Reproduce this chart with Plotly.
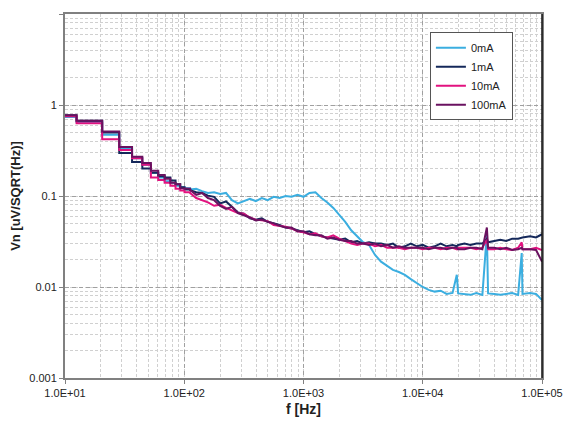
import plotly.graph_objects as go

# Low-frequency FFT bins (start frequency of each bin, Hz); each bin ends at the next start
low_f = [10, 12.5, 20.5, 28.5, 36.5, 44.5, 52.5, 60.5, 68.5, 76.5, 84.5, 92.5, 100.5]
low_0mA = [0.74, 0.65, 0.47, 0.328, 0.26, 0.22, 0.18, 0.16, 0.145, 0.14, 0.13, 0.125, 0.122]
low_1mA = [0.77, 0.67, 0.50, 0.297, 0.236, 0.20, 0.18, 0.165, 0.16, 0.148, 0.135, 0.125, 0.118]
low_10mA = [0.75, 0.63, 0.42, 0.32, 0.26, 0.22, 0.16, 0.15, 0.14, 0.13, 0.12, 0.115, 0.11]
low_100mA = [0.77, 0.67, 0.51, 0.345, 0.27, 0.23, 0.19, 0.17, 0.155, 0.14, 0.135, 0.122, 0.12]

# Higher-frequency points (Hz)
hi_f = [112, 126, 141, 158, 178, 200, 224, 251, 282, 316, 355, 398, 447, 501, 562, 631, 708, 794, 891,
        1000, 1122, 1259, 1413, 1585, 1778, 1995, 2239, 2512, 2818, 3162, 3548, 3981, 4467, 5012, 5623,
        6310, 7079, 7943, 8913, 10000, 11220, 12589, 14125, 15849, 17783, 19300, 19800, 22387, 25119,
        28184, 31623, 34500, 35300, 39811, 44668, 50119, 56234, 63096, 67600, 68600, 79433, 89125, 100000]

hi_0mA = [0.118, 0.12, 0.113, 0.108, 0.11, 0.105, 0.108, 0.090, 0.083, 0.087, 0.093, 0.088, 0.095, 0.090, 0.098, 0.095, 0.100, 0.098, 0.103,
          0.098, 0.108, 0.110, 0.095, 0.085, 0.074, 0.062, 0.052, 0.042, 0.036, 0.031, 0.029, 0.0225, 0.019, 0.017, 0.0154,
          0.0146, 0.0136, 0.0122, 0.011, 0.0100, 0.0093, 0.0089, 0.0091, 0.0084, 0.0086, 0.0136, 0.0085, 0.0084, 0.0082,
          0.0086, 0.0082, 0.039, 0.0085, 0.0084, 0.0082, 0.0084, 0.0086, 0.0082, 0.0236, 0.0084, 0.0086, 0.0084, 0.0072]

hi_1mA = [0.116, 0.11, 0.108, 0.101, 0.098, 0.083, 0.087, 0.076, 0.066, 0.064, 0.057, 0.055, 0.057, 0.052, 0.050, 0.048, 0.045, 0.044, 0.042,
          0.040, 0.041, 0.038, 0.036, 0.035, 0.034, 0.033, 0.034, 0.031, 0.032, 0.030, 0.031, 0.030, 0.030, 0.029, 0.030,
          0.027, 0.028, 0.030, 0.028, 0.029, 0.027, 0.028, 0.030, 0.028, 0.029, 0.028, 0.029, 0.030, 0.029,
          0.030, 0.030, 0.034, 0.031, 0.032, 0.033, 0.032, 0.034, 0.034, 0.035, 0.035, 0.036, 0.035, 0.038]

hi_10mA = [0.108, 0.095, 0.090, 0.085, 0.078, 0.080, 0.074, 0.070, 0.065, 0.064, 0.058, 0.055, 0.054, 0.053, 0.048, 0.047, 0.046, 0.044, 0.041,
           0.040, 0.038, 0.039, 0.036, 0.035, 0.037, 0.034, 0.032, 0.030, 0.029, 0.030, 0.030, 0.028, 0.029, 0.027, 0.027,
           0.027, 0.026, 0.027, 0.027, 0.026, 0.027, 0.027, 0.026, 0.027, 0.027, 0.026, 0.027, 0.027, 0.027,
           0.026, 0.027, 0.033, 0.026, 0.026, 0.027, 0.026, 0.0255, 0.027, 0.031, 0.026, 0.026, 0.027, 0.0255]

hi_100mA = [0.116, 0.103, 0.108, 0.095, 0.090, 0.078, 0.072, 0.076, 0.065, 0.062, 0.058, 0.054, 0.055, 0.052, 0.050, 0.047, 0.045, 0.045, 0.041,
            0.041, 0.038, 0.037, 0.037, 0.034, 0.035, 0.033, 0.032, 0.032, 0.030, 0.030, 0.029, 0.030, 0.028, 0.029, 0.027,
            0.028, 0.027, 0.027, 0.027, 0.027, 0.026, 0.027, 0.027, 0.026, 0.027, 0.027, 0.026, 0.026, 0.027,
            0.027, 0.026, 0.045, 0.027, 0.027, 0.026, 0.027, 0.0255, 0.026, 0.027, 0.026, 0.026, 0.0255, 0.019]

names = ["0mA", "1mA", "10mA", "100mA"]
colors = ["#3BAEE0", "#14285A", "#E2127F", "#6A1260"]
series = [(low_0mA, hi_0mA), (low_1mA, hi_1mA), (low_10mA, hi_10mA), (low_100mA, hi_100mA)]

x_ticks = [10, 100, 1000, 10000, 100000]
x_labels = ["1.0E+01", "1.0E+02", "1.0E+03", "1.0E+04", "1.0E+05"]
y_ticks = [0.001, 0.01, 0.1, 1, 10]
y_labels = ["0.001", "0.01", "0.1", "1", "10"]


def build(low_v, hi_v):
    xs, ys = [], []
    edges = low_f + [hi_f[0]]
    for i, v in enumerate(low_v):
        xs += [edges[i], edges[i + 1]]
        ys += [v, v]
    xs += hi_f
    ys += hi_v
    return xs, ys


fig = go.Figure()
for name, col, (lv, hv) in zip(names, colors, series):
    xs, ys = build(lv, hv)
    fig.add_trace(go.Scatter(x=xs, y=ys, mode="lines", name=name,
                             line=dict(color=col, width=2)))

grid_major = "#a0a0a0"
grid_minor = "#d0d0d0"
font_fam = "Liberation Sans, Arial, sans-serif"

fig.update_layout(
    width=565, height=415,
    margin=dict(l=57, r=31, t=6, b=45),
    paper_bgcolor="white", plot_bgcolor="white",
    font=dict(family=font_fam, size=11, color="#222"),
    showlegend=True,
    legend=dict(x=0.765, y=0.95, xanchor="left", yanchor="top",
                bgcolor="white", bordercolor="#555", borderwidth=1,
                font=dict(size=11, color="#222"),
                itemwidth=30, tracegroupgap=2),
    xaxis=dict(type="log", range=[1, 5], tickvals=x_ticks, ticktext=x_labels,
               automargin=False,
               showgrid=True, gridcolor=grid_major, griddash="4px,3px", gridwidth=1,
               minor=dict(dtick="D1", showgrid=True, gridcolor=grid_minor, griddash="3px,2px",
                          ticks=""),
               showline=True, linecolor="#808080", linewidth=2, mirror=True,
               ticks="outside", ticklen=4, tickcolor="#808080",
               title=dict(text="<b>f [Hz]</b>", font=dict(size=14, color="#222"), standoff=6),
               zeroline=False),
    yaxis=dict(type="log", range=[-3, 1], tickvals=y_ticks, ticktext=y_labels,
               automargin=False,
               showgrid=True, gridcolor=grid_major, griddash="4px,3px", gridwidth=1,
               minor=dict(dtick="D1", showgrid=True, gridcolor=grid_minor, griddash="3px,2px",
                          ticks=""),
               showline=True, linecolor="#808080", linewidth=2, mirror=True,
               ticks="outside", ticklen=4, tickcolor="#808080",
               title=dict(text="<b>Vn [uV/SQRT(Hz)]</b>", font=dict(size=13, color="#222"), standoff=8),
               zeroline=False),
)

fig.add_shape(type="line", xref="paper", yref="paper", x0=1, x1=1, y0=0, y1=1,
              line=dict(color="#111", width=1.5))

fig.write_html("out.html")
